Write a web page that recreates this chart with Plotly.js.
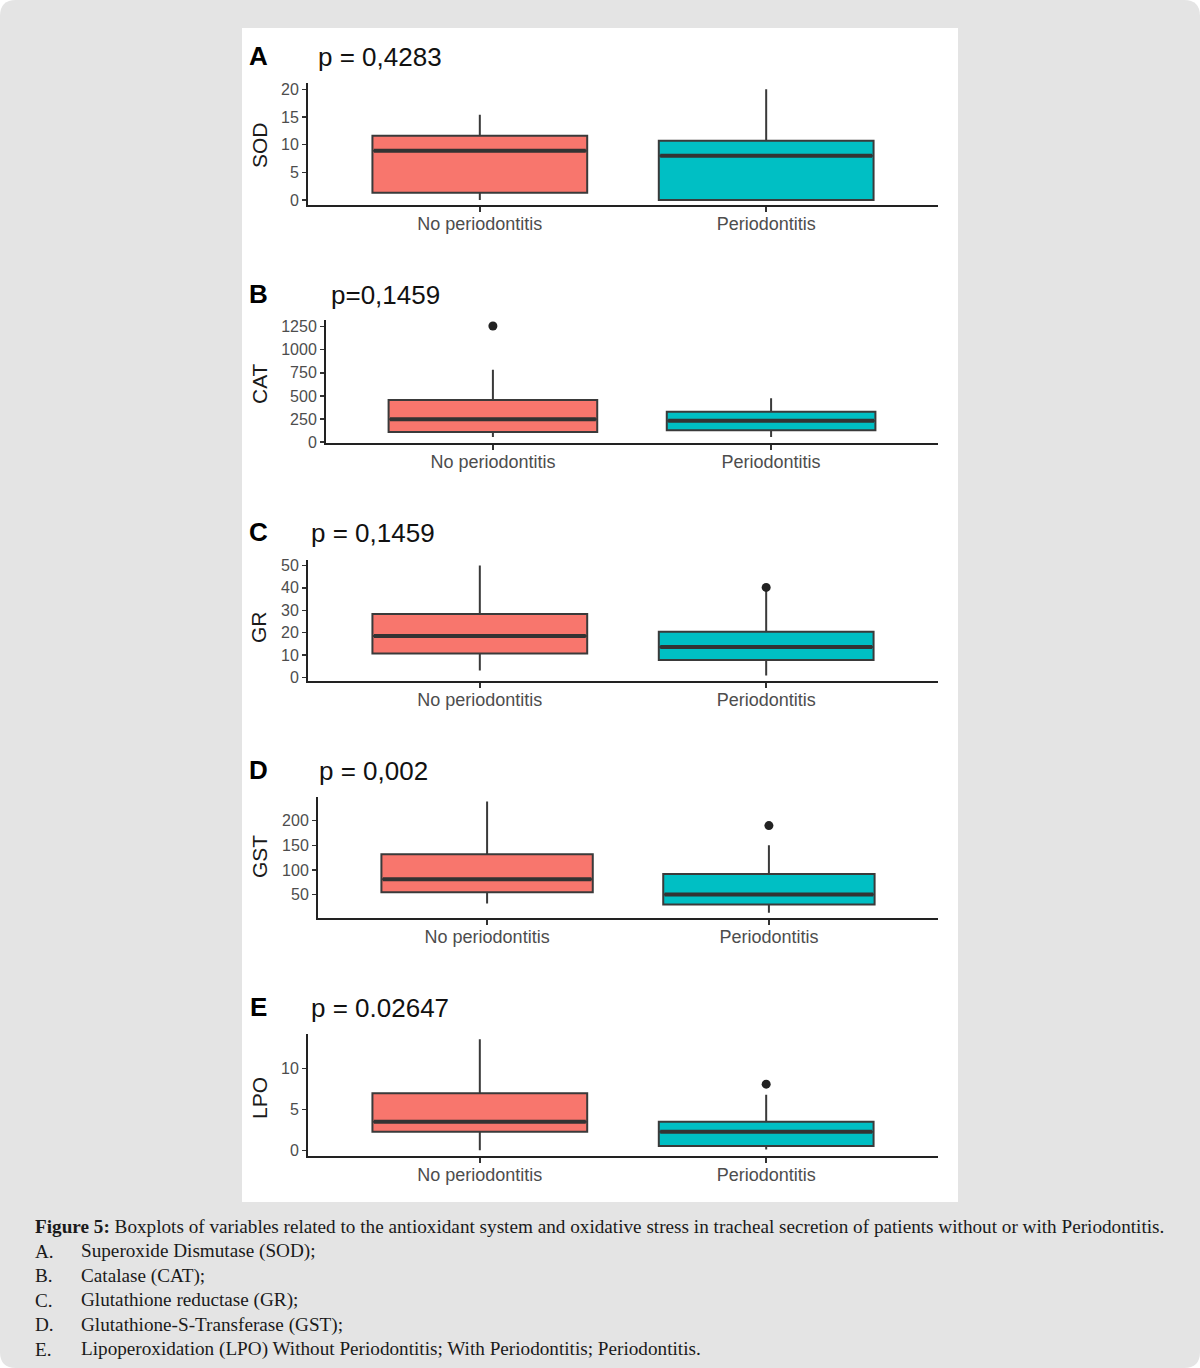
<!DOCTYPE html>
<html>
<head>
<meta charset="utf-8">
<script src="https://cdn.plot.ly/plotly-3.0.1.min.js"></script>
<style>html,body{margin:0;padding:0;background:#fff;}#chart{width:1200px;height:1368px;}</style>
</head>
<body>
<div id="chart"></div>
<script>
// ---------- DATA ----------
const groups = ['No periodontitis', 'Periodontitis'];
const panelLetters = ['A', 'B', 'C', 'D', 'E'];
const pLabels = ['p = 0,4283', 'p=0,1459', 'p = 0,1459', 'p = 0,002', 'p = 0.02647'];
const varNames = ['SOD', 'CAT', 'GR', 'GST', 'LPO'];
const lowerWhisker = [[0, 0], [55, 55], [3.2, 1.0], [32, 13.3], [0, 0.1]];
const q1 = [[1.3, 0], [109, 128], [10.8, 7.9], [54.7, 30], [2.26, 0.53]];
const median = [[8.9, 8.0], [248, 230], [18.6, 13.7], [81.3, 50], [3.5, 2.26]];
const q3 = [[11.6, 10.7], [456, 328], [28.3, 20.4], [132, 92], [7.0, 3.5]];
const upperWhisker = [[15.4, 20], [784, 474], [50, 39], [238.7, 150], [13.6, 6.8]];
const outliers = [[[], []], [[1257], []], [[], [40.2]], [[], [190]], [[], [8.1]]];
const yTicks = [[0, 5, 10, 15, 20], [0, 250, 500, 750, 1000, 1250], [0, 10, 20, 30, 40, 50], [50, 100, 150, 200], [0, 5, 10]];
const captionHead = 'Figure 5:';
const captionBody = ' Boxplots of variables related to the antioxidant system and oxidative stress in tracheal secretion of patients without or with Periodontitis.';
const captionLetters = ['A.', 'B.', 'C.', 'D.', 'E.'];
const captionItems = ['Superoxide Dismutase (SOD);', 'Catalase (CAT);', 'Glutathione reductase (GR);', 'Glutathione-S-Transferase (GST);', 'Lipoperoxidation (LPO) Without Periodontitis; With Periodontitis; Periodontitis.'];

// ---------- STYLE / LAYOUT ----------
const W = 1200, H = 1368;
const fills = ['#F8766D', '#00BFC4'];
const boxW = 0.75;
const geom = [
  {xl: 308, top: 83, bot: 205, range: [-0.9, 21.15], ty: 56, px: 316, ycy: 145},
  {xl: 326, top: 320, bot: 443, range: [-10, 1322], ty: 294, px: 329, ycy: 384},
  {xl: 308, top: 560, bot: 681, range: [-1.5, 52.4], ty: 532, px: 309, ycy: 627},
  {xl: 318, top: 797, bot: 918, range: [2.5, 248], ty: 770, px: 317, ycy: 857},
  {xl: 308, top: 1034, bot: 1156, range: [-0.7, 14.25], ty: 1007, px: 309, ycy: 1098}
];
const xr = 938;
const fx = p => p / W;
const fy = p => 1 - p / H;

const traces = [];
const layout = {
  width: W, height: H,
  margin: {l: 0, r: 0, t: 0, b: 0},
  paper_bgcolor: '#ffffff',
  plot_bgcolor: 'rgba(0,0,0,0)',
  showlegend: false,
  font: {family: 'Liberation Sans, Arial, sans-serif', color: '#4d4d4d'},
  shapes: [],
  annotations: []
};

// background rounded rectangle
const r = 16;
layout.shapes.push({
  type: 'path', xref: 'paper', yref: 'paper', layer: 'below',
  path: `M ${fx(r)},${fy(0)} L ${fx(W - r)},${fy(0)} Q ${fx(W)},${fy(0)} ${fx(W)},${fy(r)} L ${fx(W)},${fy(H - r)} Q ${fx(W)},${fy(H)} ${fx(W - r)},${fy(H)} L ${fx(r)},${fy(H)} Q ${fx(0)},${fy(H)} ${fx(0)},${fy(H - r)} L ${fx(0)},${fy(r)} Q ${fx(0)},${fy(0)} ${fx(r)},${fy(0)} Z`,
  fillcolor: '#e4e4e4', line: {width: 0}
});
layout.shapes.push({
  type: 'rect', xref: 'paper', yref: 'paper', layer: 'below',
  x0: fx(242), x1: fx(958), y0: fy(1202), y1: fy(28),
  fillcolor: '#ffffff', line: {width: 0}
});

geom.forEach((g, i) => {
  const n = i + 1;
  const xa = 'x' + (n === 1 ? '' : n);
  const ya = 'y' + (n === 1 ? '' : n);
  const xk = 'xaxis' + (n === 1 ? '' : n);
  const yk = 'yaxis' + (n === 1 ? '' : n);
  layout[xk] = {
    domain: [fx(g.xl), fx(xr)], anchor: ya, range: [0.4, 2.6],
    tickvals: [1, 2], ticktext: groups, showgrid: false, zeroline: false,
    showline: true, linecolor: '#222', linewidth: 2,
    ticks: 'outside', ticklen: 5, tickwidth: 1.5, tickcolor: '#333',
    ticklabelstandoff: -4,
    tickfont: {size: 18, color: '#4d4d4d'}, fixedrange: true
  };
  layout[yk] = {
    domain: [fy(g.bot), fy(g.top)], anchor: xa, range: g.range,
    tickvals: yTicks[i], showgrid: false, zeroline: false,
    showline: true, linecolor: '#222', linewidth: 2,
    ticks: 'outside', ticklen: 4, tickwidth: 1.5, tickcolor: '#333',
    tickfont: {size: 16, color: '#4d4d4d'}, fixedrange: true
  };
  groups.forEach((grp, j) => {
    const cx = j + 1;
    traces.push({
      type: 'box', xaxis: xa, yaxis: ya, name: grp,
      x: [cx], q1: [q1[i][j]], median: [median[i][j]], q3: [q3[i][j]],
      lowerfence: [lowerWhisker[i][j]], upperfence: [upperWhisker[i][j]],
      width: boxW, whiskerwidth: 0, boxpoints: false,
      fillcolor: fills[j], line: {color: '#3a3a3a', width: 2},
      hoverinfo: 'skip'
    });
    traces.push({
      type: 'scatter', mode: 'lines', xaxis: xa, yaxis: ya,
      x: [cx - boxW / 2 + 0.005, cx + boxW / 2 - 0.005], y: [median[i][j], median[i][j]],
      line: {color: '#333333', width: 4}, hoverinfo: 'skip'
    });
    if (outliers[i][j].length) {
      traces.push({
        type: 'scatter', mode: 'markers', xaxis: xa, yaxis: ya,
        x: outliers[i][j].map(() => cx), y: outliers[i][j],
        marker: {color: '#222222', size: 9}, hoverinfo: 'skip'
      });
    }
  });
  layout.annotations.push({
    xref: 'paper', yref: 'paper', x: fx(258), y: fy(g.ty), xanchor: 'center', yanchor: 'middle',
    text: '<b>' + panelLetters[i] + '</b>', showarrow: false,
    font: {size: 26, color: '#000000', family: 'Liberation Sans, Arial, sans-serif'}
  });
  layout.annotations.push({
    xref: 'paper', yref: 'paper', x: fx(g.px), y: fy(g.ty + 1), xanchor: 'left', yanchor: 'middle',
    text: pLabels[i], showarrow: false,
    font: {size: 26, color: '#111111', family: 'Liberation Sans, Arial, sans-serif'}
  });
  layout.annotations.push({
    xref: 'paper', yref: 'paper', x: fx(259), y: fy(g.ycy), xanchor: 'center', yanchor: 'middle',
    text: varNames[i], textangle: -90, showarrow: false,
    font: {size: 21, color: '#1a1a1a', family: 'Liberation Sans, Arial, sans-serif'}
  });
});

// caption
const capFont = {size: 19.2, color: '#1a1a1a', family: 'Liberation Serif, Times New Roman, serif'};
layout.annotations.push({
  xref: 'paper', yref: 'paper', x: fx(33), y: fy(1226), xanchor: 'left', yanchor: 'middle',
  text: '<b>' + captionHead + '</b>' + captionBody, showarrow: false, font: capFont
});
captionLetters.forEach((l, k) => {
  const yy = 1251 + k * 24.6;
  layout.annotations.push({
    xref: 'paper', yref: 'paper', x: fx(33), y: fy(yy), xanchor: 'left', yanchor: 'middle',
    text: l, showarrow: false, font: capFont
  });
  layout.annotations.push({
    xref: 'paper', yref: 'paper', x: fx(79), y: fy(yy), xanchor: 'left', yanchor: 'middle',
    text: captionItems[k], showarrow: false, font: capFont
  });
});

Plotly.newPlot('chart', traces, layout, {staticPlot: true, displayModeBar: false});
</script>
</body>
</html>
